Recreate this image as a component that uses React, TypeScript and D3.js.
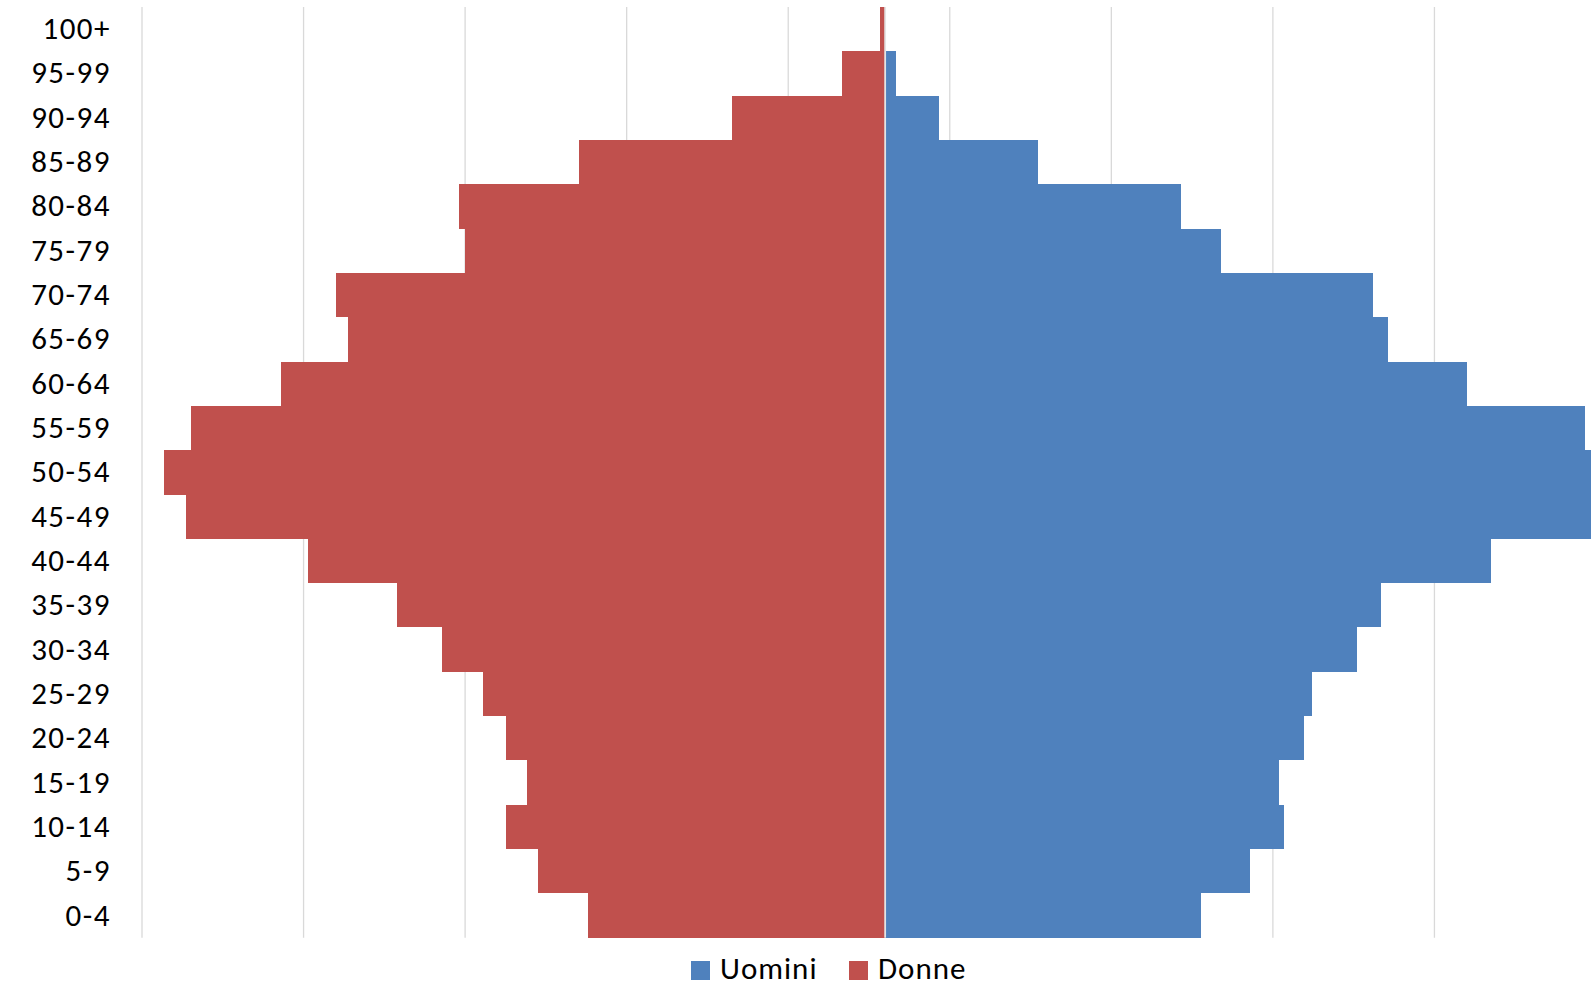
import React from "react";
import * as d3 from "d3";

const categories = ["0-4","5-9","10-14","15-19","20-24","25-29","30-34","35-39","40-44","45-49","50-54","55-59","60-64","65-69","70-74","75-79","80-84","85-89","90-94","95-99","100+"];
const uomini = [1952,2260,2467,2436,2593,2643,2920,3070,3748,4460,4480,4333,3604,3114,3020,2078,1833,947,332,68,4];
const donne = [1841,2149,2344,2218,2344,2488,2740,3022,3575,4328,4466,4297,3738,3324,3399,2601,2639,1898,950,268,30];
const gridTicks = [-4600,-3600,-2600,-1600,-600,400,1400,2400,3400,4400];
const legendItems = ["Uomini","Donne"];

const W = 1591, H = 986;
const BLUE = "#4F81BD", RED = "#C0504D";
const FONT = "Carlito, Calibri, Lato, sans-serif";

export default function App() {
  const x = d3.scaleLinear().domain([-4600, 4400]).range([142, 1596]);
  const y = d3.scaleBand<string>().domain([...categories].reverse()).range([7, 937.7]).padding(0);
  const x0 = x(0);
  const colors = [BLUE, RED];
  return (
    <svg width={W} height={H} style={{ position: "absolute", left: 0, top: 0, background: "#fff" }} fontFamily={FONT}>
      {gridTicks.map((t) => (
        <line key={t} x1={x(t)} x2={x(t)} y1={7} y2={937.7} stroke="#d9d9d9" strokeWidth={1.3} />
      ))}
      <g shapeRendering="crispEdges">
        {categories.map((c, i) => (
          <rect key={"d" + c} x={x(-donne[i])} y={y(c)} width={x0 - x(-donne[i])} height={y.bandwidth()} fill={RED} />
        ))}
        {categories.map((c, i) => (
          <rect key={"u" + c} x={x0} y={y(c)} width={x(uomini[i]) - x0} height={y.bandwidth()} fill={BLUE} />
        ))}
      </g>
      <line x1={x0} x2={x0} y1={7} y2={937.7} stroke="#e4e4e4" strokeWidth={1.8} />
      {categories.map((c) => (
        <text key={"l" + c} x={111} y={(y(c) as number) + y.bandwidth() / 2 - 1} textAnchor="end" dominantBaseline="central" fontSize={31} letterSpacing={1.5} fill="#000">{c}</text>
      ))}
      <g>
        <rect x={691} y={961} width={19} height={19} fill={colors[0]} />
        <text x={720} y={979} fontSize={31} letterSpacing={1} fill="#000">{legendItems[0]}</text>
        <rect x={849} y={961} width={19} height={19} fill={colors[1]} />
        <text x={878} y={979} fontSize={31} letterSpacing={1} fill="#000">{legendItems[1]}</text>
      </g>
    </svg>
  );
}
